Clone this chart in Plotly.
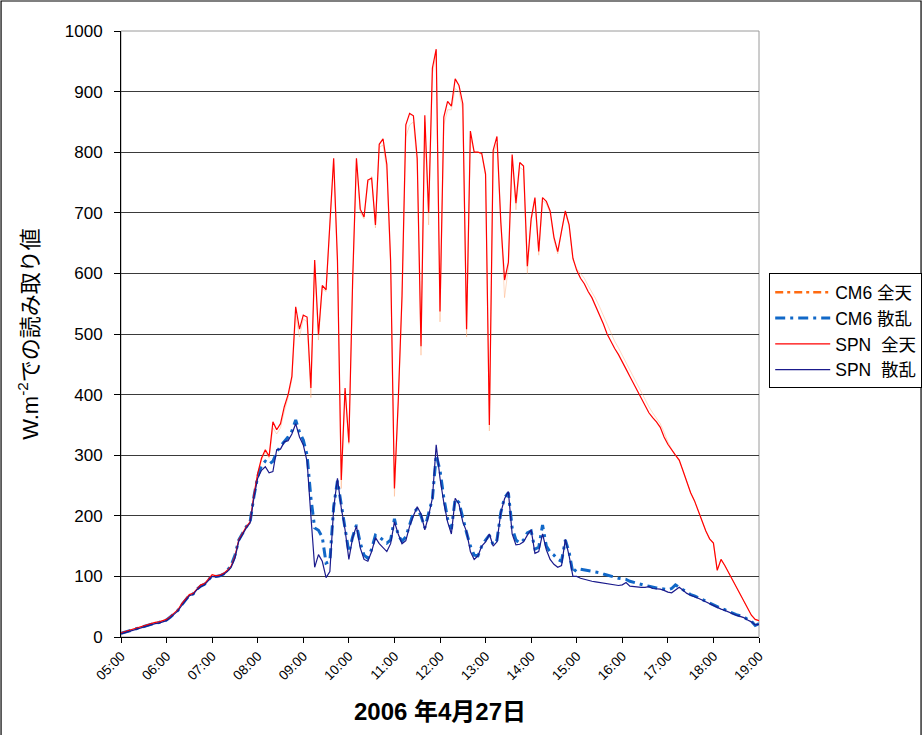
import plotly.graph_objects as go

# ---- data (5-minute readings, 05:00 .. 19:00) ----
TICK_LABELS = ["05:00", "06:00", "07:00", "08:00", "09:00", "10:00", "11:00", "12:00",
               "13:00", "14:00", "15:00", "16:00", "17:00", "18:00", "19:00"]

SPN_GLOBAL = [
    7, 9, 11, 13, 15, 17, 19, 20, 22, 24,
    25, 27, 29, 34, 40, 45, 55, 63, 70, 72,
    80, 86, 88, 95, 103, 101, 102, 105, 110, 117,
    133, 160, 172, 182, 190, 235, 270, 295, 309, 298,
    355, 342, 352, 380, 400, 430, 545, 508, 531, 528,
    411, 622, 499, 580, 573, 690, 790, 622, 259, 411,
    321, 589, 790, 706, 693, 754, 757, 680, 813, 822,
    780, 620, 245, 389, 563, 845, 864, 860, 790, 480,
    861, 700, 939, 970, 537, 858, 884, 876, 921, 910,
    880, 508, 835, 800, 800, 798, 764, 350, 803, 826,
    686, 589, 618, 796, 716, 783, 777, 612, 690, 725,
    636, 725, 719, 703, 660, 636, 673, 703, 680, 625,
    605, 592, 583, 570, 560, 546, 532, 517, 500, 487,
    476, 466, 455, 442, 430, 418, 405, 395, 382, 370,
    362, 355, 346, 330, 318, 308, 300, 292, 275, 255,
    238, 225, 208, 190, 175, 162, 155, 110, 128, 118,
    106, 95, 83, 72, 60, 48, 36, 29, 27,
]

CM6_GLOBAL = [
    7, 9, 11, 13, 15, 17, 19, 20, 22, 24,
    25, 27, 29, 34, 40, 45, 55, 63, 70, 72,
    80, 86, 88, 95, 103, 101, 102, 105, 110, 117,
    133, 160, 172, 182, 190, 232, 268, 292, 305, 295,
    345, 335, 345, 372, 395, 425, 530, 495, 525, 520,
    395, 615, 490, 575, 570, 680, 780, 615, 245, 405,
    318, 580, 785, 700, 690, 750, 760, 675, 808, 812,
    770, 610, 232, 380, 555, 825, 845, 850, 780, 465,
    850, 680, 930, 962, 520, 845, 870, 870, 905, 900,
    870, 495, 825, 800, 800, 796, 760, 340, 795, 815,
    675, 560, 610, 785, 705, 775, 770, 600, 685, 720,
    630, 720, 715, 700, 655, 632, 670, 700, 678, 622,
    608, 600, 592, 580, 570, 558, 545, 530, 515, 500,
    488, 477, 465, 452, 440, 428, 415, 404, 392, 380,
    370, 362, 352, 338, 322, 310, 300, 290, 275, 255,
    238, 225, 208, 190, 175, 162, 155, 112, 128, 118,
    106, 95, 83, 72, 60, 48, 36, 29, 27,
]

SPN_DIFFUSE = [
    5, 7, 9, 11, 13, 15, 17, 18, 20, 22,
    23, 25, 27, 32, 38, 43, 52, 60, 68, 70,
    78, 83, 86, 93, 100, 99, 100, 103, 108, 115,
    130, 158, 170, 180, 188, 230, 262, 275, 281, 271,
    273, 309, 310, 322, 324, 335, 352, 330, 317, 290,
    200, 115, 136, 125, 98, 108, 213, 262, 213, 177,
    128, 164, 183, 147, 128, 125, 141, 164, 154, 147,
    141, 154, 190, 170, 154, 159, 183, 200, 215, 203,
    177, 200, 229, 317, 262, 222, 190, 170, 229, 219,
    190, 174, 141, 128, 134, 150, 157, 170, 150, 157,
    205, 228, 240, 170, 152, 153, 157, 168, 177, 138,
    141, 170, 144, 128, 120, 115, 118, 161, 134, 100,
    100, 97, 95, 93, 92, 91, 90, 89, 87, 86,
    85, 85, 86, 90, 84, 83, 83, 82, 82, 83,
    80, 80, 79, 77, 74, 73, 78, 82, 77, 72,
    69, 67, 64, 61, 58, 54, 51, 49, 46, 44,
    41, 39, 36, 34, 32, 28, 25, 20, 21,
]

CM6_DIFFUSE = [
    6, 8, 10, 12, 14, 16, 18, 19, 21, 23,
    24, 26, 28, 33, 39, 44, 53, 61, 69, 71,
    79, 84, 87, 94, 101, 100, 101, 104, 110, 118,
    135, 160, 172, 182, 190, 232, 265, 283, 290, 285,
    290, 305, 315, 322, 330, 340, 358, 338, 325, 300,
    230, 180, 176, 165, 122, 125, 215, 258, 220, 185,
    140, 165, 185, 155, 135, 130, 145, 168, 165, 160,
    155, 160, 195, 168, 158, 165, 185, 205, 212, 200,
    180, 203, 228, 300, 275, 230, 195, 178, 228, 222,
    195, 172, 150, 135, 134, 150, 160, 168, 152, 160,
    205, 230, 238, 180, 160, 155, 160, 172, 175, 145,
    148, 185, 150, 140, 135, 128, 125, 160, 140, 105,
    113, 112, 111, 110, 108, 107, 106, 104, 102, 100,
    99, 97, 96, 95, 92, 90, 89, 87, 85, 84,
    82, 81, 80, 79, 78, 80, 86, 82, 78, 74,
    70, 68, 65, 62, 59, 55, 52, 50, 47, 45,
    42, 40, 37, 35, 33, 29, 26, 19, 22,
]

SERIES_NAMES = ["CM6 全天", "CM6 散乱", "SPN  全天", "SPN  散乱"]

# x positions: hours of day, one reading every 5 minutes starting 05:00
x_hours = [5 + k / 12 for k in range(len(SPN_GLOBAL))]
tick_hours = list(range(5, 5 + len(TICK_LABELS)))

FONT = "Liberation Sans, Arial, Noto Sans CJK JP, sans-serif"

fig = go.Figure()

# CM6 global: faint in the plot, strong orange dash-dot in the legend
fig.add_trace(go.Scatter(x=[None], y=[None], mode="lines", name=SERIES_NAMES[0],
                         line=dict(color="#FF6A10", width=2.5, dash="8px,4px,3px,4px")))
fig.add_trace(go.Scatter(x=x_hours, y=CM6_GLOBAL, mode="lines", name=SERIES_NAMES[0],
                         showlegend=False,
                         line=dict(color="rgba(255,170,120,0.45)", width=1)))
fig.add_trace(go.Scatter(x=x_hours, y=CM6_DIFFUSE, mode="lines", name=SERIES_NAMES[1],
                         line=dict(color="#1168C8", width=3, dash="10px,5px,3px,5px")))
fig.add_trace(go.Scatter(x=x_hours, y=SPN_GLOBAL, mode="lines", name=SERIES_NAMES[2],
                         line=dict(color="#FF0000", width=1.2)))
fig.add_trace(go.Scatter(x=x_hours, y=SPN_DIFFUSE, mode="lines", name=SERIES_NAMES[3],
                         line=dict(color="#1A1A8C", width=1.2)))

fig.update_layout(
    width=924, height=735,
    margin=dict(l=121, r=165, t=31, b=98, autoexpand=False),
    paper_bgcolor="white", plot_bgcolor="white",
    font=dict(family=FONT, size=16, color="black"),
    showlegend=True,
    legend=dict(x=1.016, y=0.505, xanchor="left", yanchor="middle",
                bordercolor="black", borderwidth=1, bgcolor="white",
                font=dict(size=17.5, family=FONT), itemwidth=55,
                tracegroupgap=0),
    xaxis=dict(range=[5, 19], tickmode="array", tickvals=tick_hours, ticktext=TICK_LABELS,
               tickangle=-45, tickfont=dict(size=13.5, family=FONT),
               ticks="outside", ticklen=5, tickcolor="black",
               showline=True, linecolor="black", linewidth=1, mirror=False,
               showgrid=False, zeroline=False, automargin=False,
               title=dict(text="<b>2006 年4月27日</b>", font=dict(size=24, family=FONT),
                          standoff=20)),
    yaxis=dict(range=[0, 1000], dtick=100, tickfont=dict(size=17, family=FONT),
               ticks="outside", ticklen=6, tickcolor="black", ticklabelstandoff=8,
               showline=True, linecolor="black", linewidth=1,
               showgrid=True, gridcolor="#3a3a3a", gridwidth=1, zeroline=False,
               automargin=False,
               title=dict(text="W.m<sup>-2</sup>での読み取り値", font=dict(size=22, family=FONT),
                          standoff=20)),
    shapes=[
        # plot-area border (grey)
        dict(type="rect", xref="paper", yref="paper", x0=0, y0=0, x1=1, y1=1,
             line=dict(color="#9a9a9a", width=1), layer="below"),
        # outer chart border
        dict(type="rect", xref="paper", yref="paper", x0=-0.188, y0=-0.2, x1=1.254, y1=1.0495,
             line=dict(color="black", width=1.2)),
    ],
)

fig.write_html("out.html", config={"displayModeBar": False},
               post_script="document.body.style.margin='0';document.body.style.overflow='hidden';")
